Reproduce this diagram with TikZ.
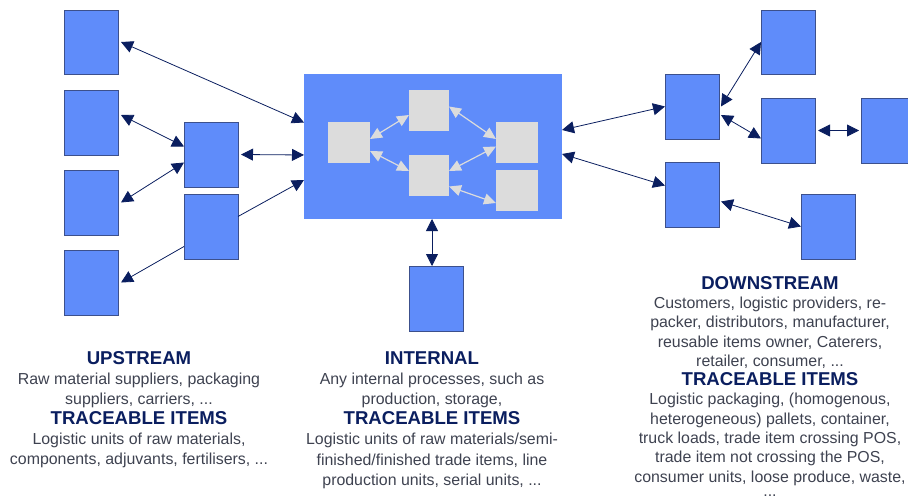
\documentclass[tikz,border=0pt]{standalone}
\usepackage{fontspec}
\setmainfont{Liberation Sans}
\usetikzlibrary{arrows.meta}
\definecolor{boxblue}{RGB}{95,140,250}
\definecolor{edgeblue}{RGB}{60,80,140}
\definecolor{navy}{RGB}{10,30,95}
\definecolor{innergrey}{RGB}{220,220,220}
\definecolor{bodytext}{RGB}{62,66,80}
\tikzset{
  bx/.style={draw=edgeblue,line width=0.9pt,fill=boxblue,minimum width=54pt,inner sep=0pt,outer sep=0pt,anchor=north west},
  bigbox/.style={fill=boxblue,inner sep=0pt,outer sep=0pt,anchor=north west,minimum width=258pt,minimum height=145pt},
  gr/.style={fill=innergrey,inner sep=0pt,outer sep=0pt,anchor=north west},
  lnk/.style={draw=navy,line width=0.8pt,{Triangle[length=12pt,width=12pt]}-{Triangle[length=12pt,width=12pt]}},
  lnko/.style={draw=navy,line width=0.8pt,-{Triangle[length=12pt,width=12pt]}},
  glnk/.style={draw=innergrey,line width=1.2pt,{Triangle[length=12pt,width=11pt]}-{Triangle[length=12pt,width=11pt]}},
  captxt/.style={align=center,text=bodytext,font=\fontsize{15.9}{19.3}\selectfont,anchor=north,inner sep=0pt},
  captxtwide/.style={captxt,font=\fontsize{15.9}{20.1}\selectfont},
}
\newcommand{\hd}[1]{{\fontsize{18.6}{19.3}\selectfont\bfseries\textcolor{navy}{#1}}}
\begin{document}
\begin{tikzpicture}[x=1pt,y=-1pt]
\useasboundingbox (0,0) rectangle (908,500);
% left column
\node[bx,minimum height=64pt] (u1) at (64,10) {};
\node[bx,minimum height=65pt] (u2) at (64,90) {};
\node[bx,minimum height=65pt] (u3) at (64,170) {};
\node[bx,minimum height=65pt] (u4) at (64,250) {};
\node[bx,minimum height=65pt] (m1) at (184,122) {};
\node[bx,minimum height=65pt] (m2) at (184,194) {};
% centre
\node[bigbox] (core) at (304,74) {};
\node[gr,minimum width=42pt,minimum height=41pt] (g1) at (328,122) {};
\node[gr,minimum width=40pt,minimum height=41pt] (g2) at (409,90) {};
\node[gr,minimum width=40pt,minimum height=41pt] (g3) at (409,155) {};
\node[gr,minimum width=42pt,minimum height=41pt] (g4) at (496,122) {};
\node[gr,minimum width=42pt,minimum height=41pt] (g5) at (496,170) {};
\node[bx,minimum height=65pt] (b1) at (409,266) {};
% right
\node[bx,minimum height=65pt] (r1) at (665,74) {};
\node[bx,minimum height=65pt] (r2) at (665,162) {};
\node[bx,minimum height=64pt] (r3) at (761,10) {};
\node[bx,minimum height=65pt] (r4) at (761,98) {};
\node[bx,minimum height=65pt] (r5) at (861,98) {};
\node[bx,minimum height=65pt] (r6) at (801,194) {};
% connectors left
\draw[lnk] ([xshift=3pt]u1.east) -- ([yshift=24pt]core.west);
\draw[lnk] ([shift={(3,-7.5)}]u2.east) -- ([yshift=8pt]m1.west);
\draw[lnk] ([xshift=3pt]u3.east) -- ([yshift=-8pt]m1.west);
\draw[lnk] ([xshift=3pt]m1.east) -- ([yshift=-8.5pt]core.west);
\draw[lnko] ([yshift=10pt]m2.east) -- ([yshift=-33.5pt]core.west);
\draw[lnko] ([yshift=-20pt]m2.west) -- ([xshift=3pt]u4.east);
% connector centre
\draw[lnk] ([xshift=-4pt]core.south -| b1.north) -- ([xshift=-4pt]b1.north);
% connectors right
\draw[lnk] ([yshift=16.5pt]core.east) -- (r1.west);
\draw[lnk] ([yshift=-7.5pt]core.east) -- ([yshift=9pt]r2.west);
\draw[lnk] ([xshift=2pt]r1.east) -- (r3.west);
\draw[lnk] ([shift={(2,8.5)}]r1.east) -- ([yshift=-8pt]r4.west);
\draw[lnk] ([xshift=3pt]r4.east) -- ([xshift=-2pt]r5.west);
\draw[lnk] ([shift={(2,7)}]r2.east) -- (r6.west);
% inner
\draw[glnk] ([yshift=3.5pt]g1.east) -- ([yshift=-4.5pt]g2.west);
\draw[glnk] ([yshift=-8.5pt]g1.east) -- ([yshift=4.5pt]g3.west);
\draw[glnk] ([yshift=4pt]g2.east) -- ([yshift=3.5pt]g4.west);
\draw[glnk] ([yshift=4.5pt]g3.east) -- ([yshift=-4pt]g4.west);
\draw[glnk] ([yshift=-11pt]g3.east) -- ([yshift=-12.5pt]g5.west);
% captions
\node[captxtwide] (tu) at (139,351) {\hd{UPSTREAM}\\Raw material suppliers, packaging\\suppliers, carriers, ...\\\hd{TRACEABLE ITEMS}\\Logistic units of raw materials,\\components, adjuvants, fertilisers, ...};
\node[captxtwide] (ti) at (432,351.5) {\hd{INTERNAL}\\Any internal processes, such as\\production, storage,\\\hd{TRACEABLE ITEMS}\\Logistic units of raw materials/semi-\\finished/finished trade items, line\\production units, serial units, ...};
\node[captxt] (td) at (770,276) {\hd{DOWNSTREAM}\\Customers, logistic providers, re-\\packer, distributors, manufacturer,\\reusable items owner, Caterers,\\retailer, consumer, ...\\\hd{TRACEABLE ITEMS}\\Logistic packaging, (homogenous,\\heterogeneous) pallets, container,\\truck loads, trade item crossing POS,\\trade item not crossing the POS,\\consumer units, loose produce, waste,\\[-4.5pt]...};
\end{tikzpicture}
\end{document}
